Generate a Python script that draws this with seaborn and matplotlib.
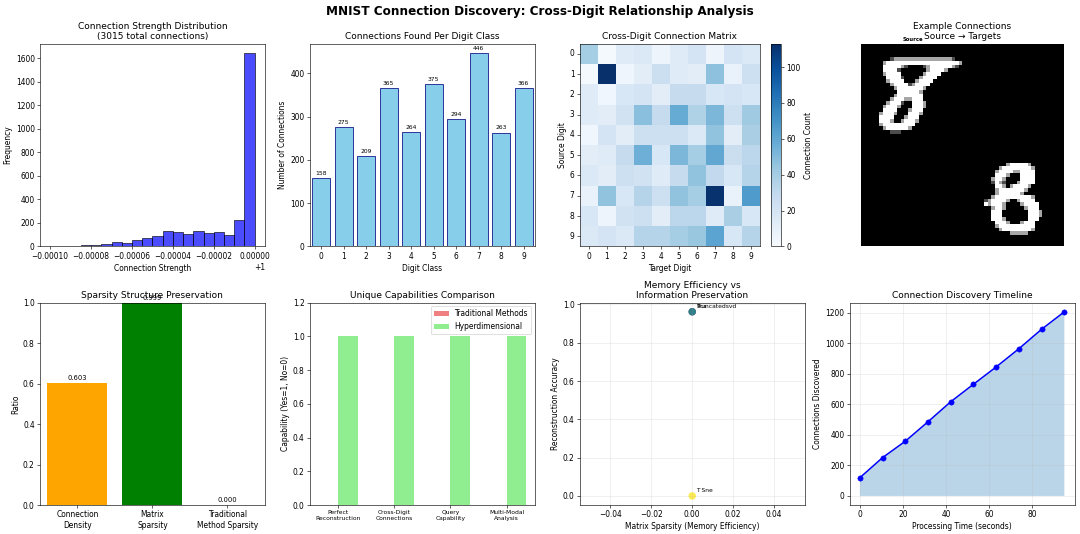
import numpy as np
import pandas as pd
import seaborn as sns
import matplotlib.pyplot as plt

# ---- data ----
# histogram of connection strengths (value - 1), 20 bins
strength_counts = [3, 2, 5, 8, 14, 17, 35, 30, 57, 72, 85, 133, 122, 107, 135, 115, 120, 93, 222, 1640]

digit_classes = [0, 1, 2, 3, 4, 5, 6, 7, 8, 9]
connections_per_digit = [158, 275, 209, 365, 264, 375, 294, 446, 263, 366]

cross_digit_matrix = [
    [40, 2, 14, 16, 6, 14, 20, 6, 20, 16],
    [2, 113, 5, 12, 25, 14, 12, 47, 8, 24],
    [14, 4, 18, 20, 12, 28, 28, 18, 20, 18],
    [14, 12, 22, 48, 28, 58, 36, 52, 24, 42],
    [4, 20, 12, 24, 24, 24, 16, 46, 12, 38],
    [12, 14, 28, 56, 18, 52, 40, 60, 26, 32],
    [16, 12, 24, 22, 14, 28, 46, 30, 18, 34],
    [8, 46, 18, 34, 24, 46, 40, 112, 8, 66],
    [18, 6, 22, 24, 12, 32, 32, 14, 38, 18],
    [16, 20, 16, 34, 34, 40, 44, 62, 18, 34],
]

# two 28x28 digit images: '#' bright, '+' mid, '.' dim
source_digit = [
    "",
    "",
    "",
    "",
    "        .++++++++++++++++.",
    "      +####################+",
    "      #####+.    .+######+.",
    "      ####.       +####+",
    "      +####      +####",
    "       ####.    +####",
    "       +####   +####",
    "        +####.+####",
    "         +#######+",
    "          ######+",
    "         +#######",
    "        +###++###",
    "       +###.  ###+",
    "      +###+   ###+",
    "      ####   +###",
    "     +###+   ###+",
    "     ####   +###",
    "     ###+  +###+",
    "     +#########",
    "      +######+",
    "        ...",
    "",
    "",
    "",
]
target_digit = [
    "",
    "",
    "",
    "",
    "",
    "            +#####+",
    "          +########+",
    "         +####++####",
    "         ###+   ####",
    "        +##+    ####",
    "        .#+.   +####",
    "         ##+ +####+",
    "         +#######+",
    "         +######+",
    "        +##########+",
    "      .+####+  +####",
    "      #+###+    +####",
    "        +##+     +###",
    "        ###       ###+",
    "        ###       ###+",
    "        ###+      ###",
    "         ###+   +###",
    "         +##########",
    "          +########+",
    "             +++++",
    "",
    "",
    "",
]

sparsity_labels = ['Connection\nDensity', 'Matrix\nSparsity', 'Traditional\nMethod Sparsity']
sparsity_values = [0.603, 0.999, 0.000]

capabilities = ['Perfect\nReconstruction', 'Cross-Digit\nConnections', 'Query\nCapability', 'Multi-Modal\nAnalysis']
traditional_caps = [0, 0, 0, 0]
hyperdim_caps = [1, 1, 1, 1]

methods = ['Pca', 'Truncatedsvd', 'T Sne']
method_sparsity = [0.0, 0.0, 0.0]
method_accuracy = [0.962, 0.962, 0.0]

timeline_seconds = [0, 10.5, 21, 31.5, 42.2, 52.6, 63.2, 73.8, 84.3, 94.9]
timeline_connections = [120, 251, 358, 485, 618, 731, 845, 965, 1092, 1207]

# ---- figure ----
fig, axes = plt.subplots(2, 4, figsize=(20, 534 / 54), dpi=54,
                         gridspec_kw=dict(left=0.037, right=0.995, top=0.918, bottom=0.054,
                                          wspace=0.2, hspace=0.277))
fig.suptitle('MNIST Connection Discovery: Cross-Digit Relationship Analysis',
             fontsize=16, fontweight='bold', y=0.99)

# 1. connection strength histogram
ax = axes[0, 0]
edges = 1 + np.linspace(-0.0001, 0.0, 21)
hist_df = pd.DataFrame({'strength': (edges[:-1] + edges[1:]) / 2, 'count': strength_counts})
sns.histplot(data=hist_df, x='strength', weights='count', bins=list(edges), color='blue',
             alpha=0.7, edgecolor='black', linewidth=0.8, ax=ax)
ax.set_title(f'Connection Strength Distribution\n({sum(strength_counts)} total connections)', fontsize=12)
ax.set_xlabel('Connection Strength')
ax.set_ylabel('Frequency')

# 2. connections per digit
ax = axes[0, 1]
sns.barplot(x=digit_classes, y=connections_per_digit, color='skyblue', saturation=1,
            edgecolor='navy', linewidth=1, width=0.8, ax=ax)
for i, v in enumerate(connections_per_digit):
    ax.text(i, v + 5, str(v), ha='center', va='bottom', fontsize=8)
ax.set_title('Connections Found Per Digit Class', fontsize=12)
ax.set_xlabel('Digit Class')
ax.set_ylabel('Number of Connections')

# 3. cross-digit heatmap
ax = axes[0, 2]
sns.heatmap(np.array(cross_digit_matrix), cmap='Blues', vmin=0, ax=ax,
            cbar_kws={'label': 'Connection Count'})
for s in ax.spines.values():
    s.set_visible(True)
ax.collections[0].colorbar.outline.set_linewidth(0.8)
ax.tick_params(axis='y', rotation=0)
ax.set_title('Cross-Digit Connection Matrix', fontsize=12)
ax.set_xlabel('Target Digit')
ax.set_ylabel('Source Digit')

# 4. example connection image
ax = axes[0, 3]
shade = {'#': 1.0, '+': 0.65, '.': 0.3, ' ': 0.0}
canvas = np.zeros((56, 56))
for r, row in enumerate(source_digit):
    for c, ch in enumerate(row.ljust(28)):
        canvas[r, c] = shade[ch]
for r, row in enumerate(target_digit):
    for c, ch in enumerate(row.ljust(28)):
        canvas[28 + r, 28 + c] = shade[ch]
ax.imshow(canvas, cmap='gray', vmin=0, vmax=1)
ax.text(14, -1, 'Source', ha='center', va='bottom', fontsize=7, fontweight='bold')
ax.set_title('Example Connections\nSource → Targets', fontsize=12)
ax.axis('off')

# 5. sparsity structure
ax = axes[1, 0]
sns.barplot(x=sparsity_labels, y=sparsity_values, hue=sparsity_labels, legend=False,
            palette=['orange', 'green', 'red'], saturation=1, width=0.8, ax=ax)
for i, v in enumerate(sparsity_values):
    ax.text(i, v + 0.01, f'{v:.3f}', ha='center', va='bottom', fontsize=9)
ax.set_ylim(0, 1)
ax.set_title('Sparsity Structure Preservation', fontsize=12)
ax.set_ylabel('Ratio')

# 6. capabilities comparison
ax = axes[1, 1]
cap_df = pd.DataFrame({
    'Capability': capabilities * 2,
    'Method': ['Traditional Methods'] * 4 + ['Hyperdimensional'] * 4,
    'Value': traditional_caps + hyperdim_caps,
})
sns.barplot(data=cap_df, x='Capability', y='Value', hue='Method',
            palette={'Traditional Methods': 'lightcoral', 'Hyperdimensional': 'lightgreen'},
            saturation=1, width=0.7, ax=ax)
ax.set_ylim(0, 1.2)
ax.set_xlabel('')
ax.set_ylabel('Capability (Yes=1, No=0)')
ax.tick_params(axis='x', labelsize=8)
ax.legend(loc='upper right', title=None)
ax.set_title('Unique Capabilities Comparison', fontsize=12)

# 7. memory efficiency scatter
ax = axes[1, 2]
sns.scatterplot(x=method_sparsity, y=method_accuracy, hue=[0, 1, 2], palette='viridis',
                s=100, alpha=0.8, linewidth=0, legend=False, ax=ax)
for name, x, y in zip(methods, method_sparsity, method_accuracy):
    ax.annotate(name, (x, y), xytext=(5, 5), textcoords='offset points', fontsize=8)
ax.grid(True, alpha=0.3)
ax.set_title('Memory Efficiency vs\nInformation Preservation', fontsize=12)
ax.set_xlabel('Matrix Sparsity (Memory Efficiency)')
ax.set_ylabel('Reconstruction Accuracy')

# 8. discovery timeline
ax = axes[1, 3]
sns.lineplot(x=timeline_seconds, y=timeline_connections, color='blue', marker='o',
             markersize=7, markeredgecolor='blue', linewidth=2, ax=ax)
ax.fill_between(timeline_seconds, timeline_connections, alpha=0.3)
ax.grid(True, alpha=0.3)
ax.set_title('Connection Discovery Timeline', fontsize=12)
ax.set_xlabel('Processing Time (seconds)')
ax.set_ylabel('Connections Discovered')

fig.savefig('out.png', dpi=54)
